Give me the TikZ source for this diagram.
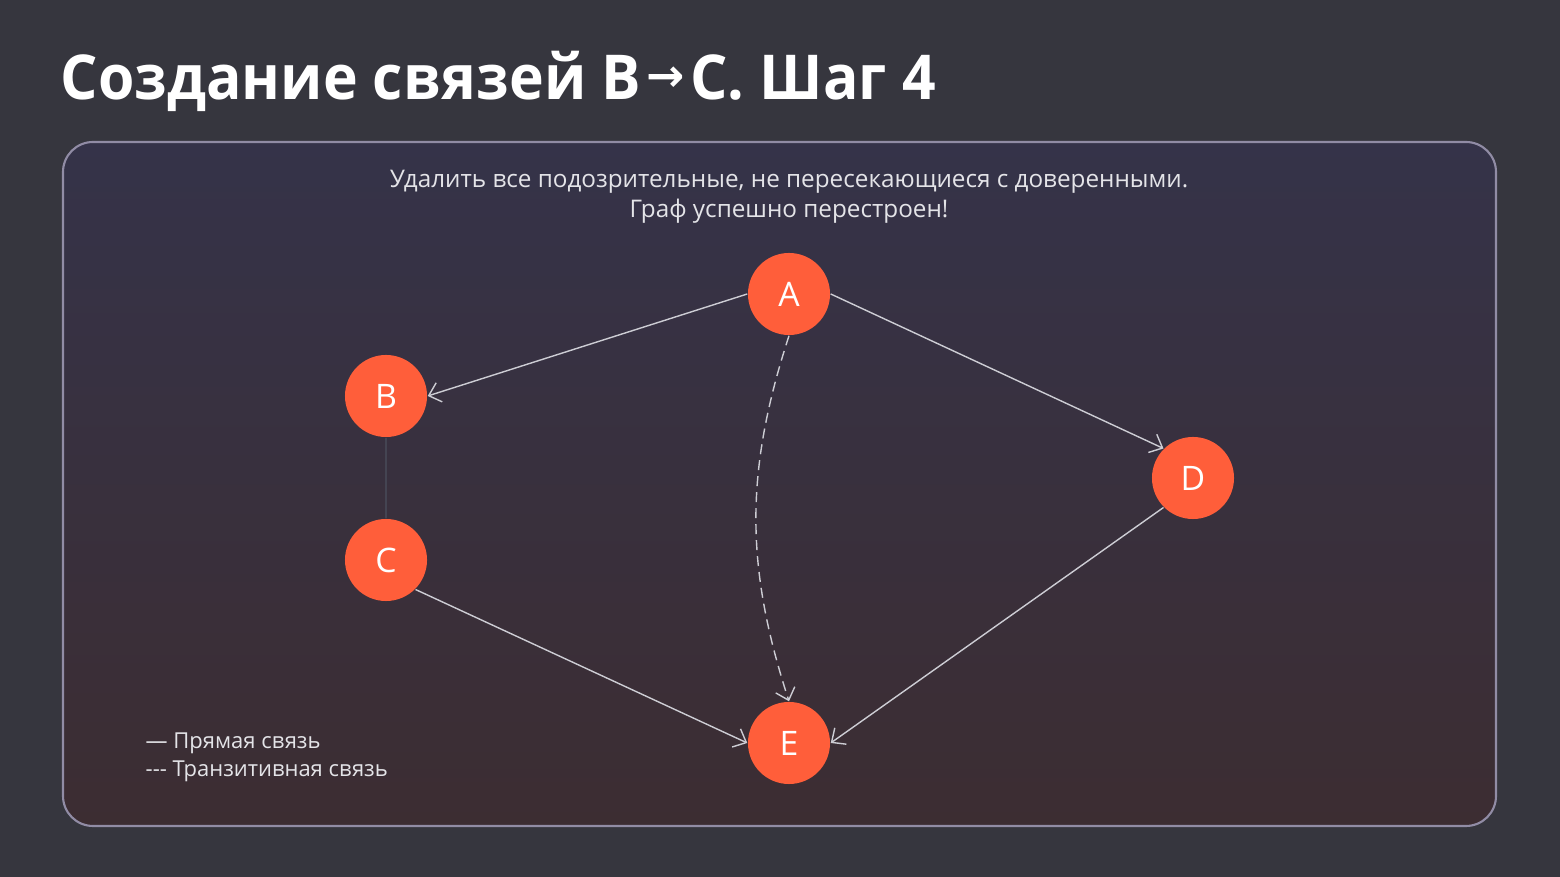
\documentclass[tikz,border=0pt]{standalone}
\usepackage{fontspec}
\setmainfont{Open Sans}
\newfontfamily\titlefont[FakeStretch=0.95]{Open Sans}
\newfontfamily\arrowfont{DejaVu Sans}
\usetikzlibrary{arrows.meta}
\definecolor{bgdark}{RGB}{54,54,62}
\definecolor{paneltop}{RGB}{53,51,73}
\definecolor{panelbot}{RGB}{60,45,50}
\definecolor{panelrim}{RGB}{145,140,165}
\definecolor{vertexred}{RGB}{255,94,58}
\definecolor{linkgray}{RGB}{205,205,212}
\definecolor{faintlink}{RGB}{68,68,82}
\definecolor{softwhite}{RGB}{228,228,232}

\begin{document}
\begin{tikzpicture}[x=0.01cm,y=-0.01cm,
    vertex/.style={circle,fill=vertexred,minimum size=0.82cm,inner sep=0pt,
      text=white,font=\fontsize{9.6}{10}\selectfont},
    direct/.style={draw=linkgray,line width=0.4pt,-{Straight Barb[length=1.1mm,width=2mm]}},
    transit/.style={direct,dash pattern=on 1mm off 0.6mm},
    smalltxt/.style={text=softwhite,inner sep=0pt}]
       \fill[bgdark] (0,0) rectangle (1560,877);
       \shade[top color=paneltop,bottom color=panelbot,draw=panelrim,line width=0.6pt,
         rounded corners=0.3cm] (63,142) rectangle (1496,826);
       \node[anchor=base west,inner sep=0pt,text=white,
         font=\titlefont\fontsize{17.6}{20}\selectfont\bfseries] (title) at (60,100)
         {Создание связей B\hspace{1.5pt}\raisebox{2.4pt}{\arrowfont\fontsize{13}{13}\selectfont →}\hspace{1.5pt}C. Шаг 4};
       \node[smalltxt,align=center,font=\fontsize{6.9}{8.6}\selectfont] (task) at (789,197)
         {Удалить все подозрительные, не пересекающиеся с доверенными.\\
          Граф успешно перестроен!};
       \node[vertex] (A) at (789,294) {A};
       \node[vertex] (B) at (386,396) {B};
       \node[vertex] (C) at (386,560) {C};
       \node[vertex] (D) at (1193,478) {D};
       \node[vertex] (E) at (789,743) {E};
       \draw[direct] (A.west) -- (B.east);
       \draw[direct] (A.east) -- (D.north west);
       \draw[direct] (D.south west) -- (E.east);
       \draw[direct] (C.south east) -- (E.west);
       \draw[transit] (A.south) to[bend right=18] (E.north);
       \draw[faintlink,line width=0.3pt] (B) -- (C);
       \node[smalltxt,anchor=west,font=\fontsize{6.25}{8}\selectfont] (legdirect) at (145,743) {— Прямая связь};
       \node[smalltxt,anchor=west,font=\fontsize{6.25}{8}\selectfont] (legtransit) at (145,771) {-{}-{}- Транзитивная связь};
\end{tikzpicture}
\end{document}
